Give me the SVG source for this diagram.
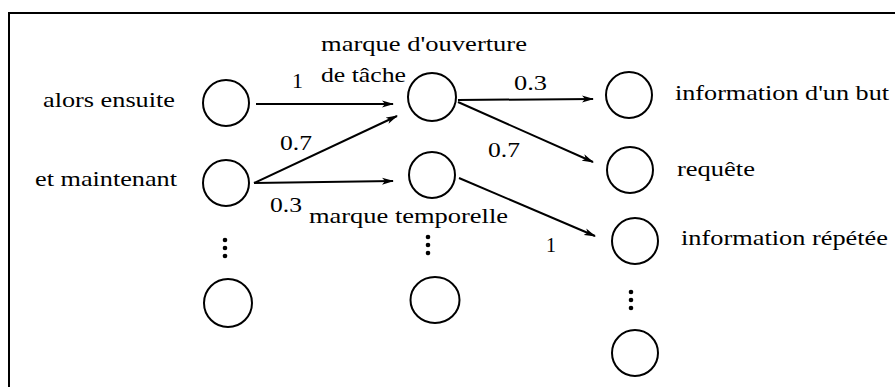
<svg xmlns="http://www.w3.org/2000/svg" width="895" height="387" viewBox="0 0 895 387">
<defs>
<style>
.n{fill:none;stroke:#000;stroke-width:2}
.e{fill:none;stroke:#000;stroke-width:2;marker-end:url(#ah)}
.t{font-family:"Liberation Serif",serif;font-size:22px;fill:#000}
.d{fill:#000}
</style>
<marker id="ah" viewBox="0 0 12 8" refX="11" refY="4" markerWidth="12" markerHeight="8" markerUnits="userSpaceOnUse" orient="auto">
<path d="M0,0.5 L12,4 L0,7.5 L3,4 z" fill="#000"/>
</marker>
</defs>
<rect x="9" y="13" width="900" height="400" fill="#fff" stroke="#000" stroke-width="2"/>
<g id="connectors">
<line class="e" x1="256" y1="104" x2="393" y2="104"/>
<line class="e" x1="254" y1="183" x2="397" y2="116"/>
<line class="e" x1="254" y1="183" x2="393" y2="181"/>
<line class="e" x1="458" y1="100" x2="593" y2="99"/>
<line class="e" x1="458" y1="102" x2="593" y2="162"/>
<line class="e" x1="459" y1="178" x2="595" y2="236"/>
<text class="t" x="292" y="88" textLength="11" lengthAdjust="spacingAndGlyphs">1</text>
<text class="t" x="280" y="150" textLength="32" lengthAdjust="spacingAndGlyphs">0.7</text>
<text class="t" x="270" y="212" textLength="32" lengthAdjust="spacingAndGlyphs">0.3</text>
<text class="t" x="514" y="90" textLength="33" lengthAdjust="spacingAndGlyphs">0.3</text>
<text class="t" x="488" y="157" textLength="32" lengthAdjust="spacingAndGlyphs">0.7</text>
<text class="t" x="546" y="252" textLength="10" lengthAdjust="spacingAndGlyphs">1</text>
</g>
<g id="n-alors">
<circle class="n" cx="226" cy="103" r="23"/>
<text class="t" x="43" y="107" textLength="132" lengthAdjust="spacingAndGlyphs">alors ensuite</text>
</g>
<g id="n-maintenant">
<circle class="n" cx="226" cy="183" r="23"/>
<text class="t" x="35" y="186" textLength="142" lengthAdjust="spacingAndGlyphs">et maintenant</text>
</g>
<g id="dots1">
<circle class="d" cx="225" cy="240" r="2.3"/>
<circle class="d" cx="225" cy="248" r="2.3"/>
<circle class="d" cx="225" cy="256" r="2.3"/>
</g>
<g id="n-c1-last">
<circle class="n" cx="228" cy="303" r="24"/>
</g>
<g id="n-ouverture">
<circle class="n" cx="432" cy="97" r="24"/>
<text class="t" x="321" y="51" textLength="206" lengthAdjust="spacingAndGlyphs">marque d'ouverture</text>
<text class="t" x="321" y="82" textLength="85" lengthAdjust="spacingAndGlyphs">de tâche</text>
</g>
<g id="n-temporelle">
<circle class="n" cx="432" cy="175" r="23"/>
<text class="t" x="309" y="223" textLength="199" lengthAdjust="spacingAndGlyphs">marque temporelle</text>
</g>
<g id="dots2">
<circle class="d" cx="428" cy="237" r="2.3"/>
<circle class="d" cx="428" cy="245" r="2.3"/>
<circle class="d" cx="428" cy="253" r="2.3"/>
</g>
<g id="n-c2-last">
<ellipse class="n" cx="435" cy="300" rx="24.5" ry="23"/>
</g>
<g id="n-but">
<circle class="n" cx="629" cy="95" r="23"/>
<text class="t" x="675" y="100" textLength="214" lengthAdjust="spacingAndGlyphs">information d'un but</text>
</g>
<g id="n-requete">
<circle class="n" cx="630" cy="170" r="23"/>
<text class="t" x="677" y="176" textLength="78" lengthAdjust="spacingAndGlyphs">requête</text>
</g>
<g id="n-repetee">
<circle class="n" cx="635" cy="241" r="23"/>
<text class="t" x="681" y="245" textLength="207" lengthAdjust="spacingAndGlyphs">information répétée</text>
</g>
<g id="dots3">
<circle class="d" cx="631" cy="292" r="2.3"/>
<circle class="d" cx="631" cy="300" r="2.3"/>
<circle class="d" cx="631" cy="308" r="2.3"/>
</g>
<g id="n-c3-last">
<circle class="n" cx="635" cy="353" r="23"/>
</g>
</svg>
